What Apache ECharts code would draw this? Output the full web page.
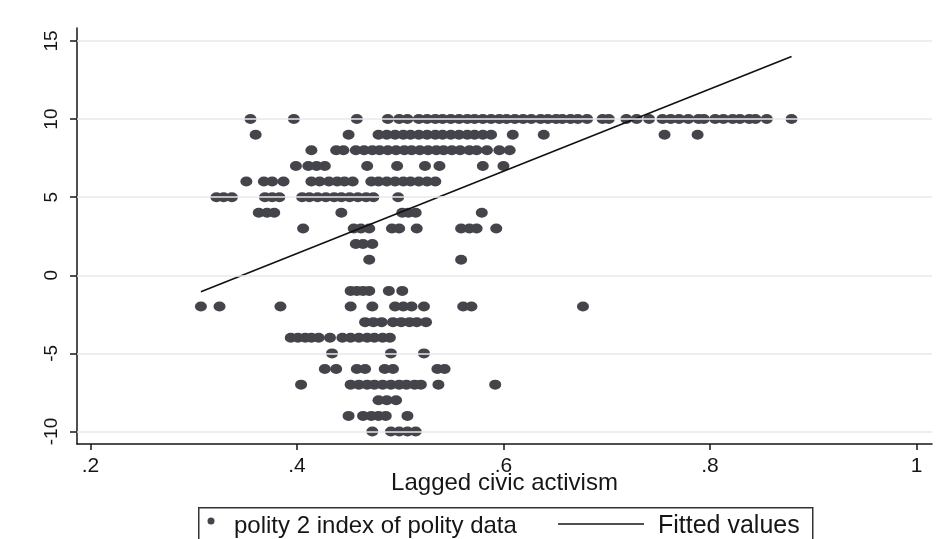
<!DOCTYPE html>
<html>
<head>
<meta charset="utf-8">
<script src="https://cdn.jsdelivr.net/npm/echarts@6/dist/echarts.min.js"></script>
<style>html,body{margin:0;padding:0;background:#fff;}#c{width:949px;height:539px;}</style>
</head>
<body>
<div id="c"></div>
<script>
// polity 2 index levels and the lagged civic activism values observed at each level
const levels = [10, 9, 8, 7, 6, 5, 4, 3, 2, 1, -1, -2, -3, -4, -5, -6, -7, -8, -9, -10];
const p10 = [0.355,0.397,0.458,0.488,0.499,0.507,0.518,0.526,0.534,0.541,0.549,0.557,0.565,0.572,0.580,0.588,0.596,0.603,0.611,0.619,0.627,0.636,0.643,0.651,0.657,0.665,0.672,0.681,0.696,0.702,0.719,0.729,0.741,0.754,0.762,0.770,0.779,0.789,0.794,0.805,0.813,0.822,0.829,0.838,0.844,0.855,0.879];
const p9 = [0.360,0.450,0.479,0.487,0.495,0.503,0.510,0.518,0.526,0.534,0.541,0.549,0.557,0.565,0.572,0.580,0.588,0.609,0.639,0.756,0.788];
const p8 = [0.414,0.438,0.445,0.457,0.465,0.473,0.480,0.488,0.496,0.504,0.511,0.519,0.527,0.535,0.542,0.550,0.558,0.567,0.574,0.584,0.596,0.606];
const p7 = [0.399,0.411,0.419,0.427,0.468,0.497,0.524,0.538,0.580,0.600];
const p6 = [0.351,0.368,0.376,0.387,0.414,0.422,0.431,0.439,0.446,0.454,0.472,0.479,0.487,0.495,0.503,0.510,0.518,0.526,0.534];
const p5 = [0.322,0.329,0.337,0.369,0.376,0.383,0.405,0.412,0.420,0.428,0.436,0.443,0.451,0.459,0.467,0.474,0.498];
const p4 = [0.363,0.371,0.378,0.443,0.502,0.508,0.515,0.579];
const p3 = [0.406,0.455,0.462,0.470,0.492,0.499,0.516,0.559,0.567,0.574,0.593];
const p2 = [0.457,0.464,0.473];
const p1 = [0.470,0.559];
const m1 = [0.452,0.458,0.464,0.470,0.489,0.502];
const m2 = [0.307,0.325,0.384,0.452,0.473,0.495,0.503,0.511,0.523,0.561,0.569,0.677];
const m3 = [0.466,0.474,0.482,0.493,0.501,0.509,0.516,0.525];
const m4 = [0.394,0.401,0.408,0.414,0.421,0.432,0.444,0.452,0.460,0.468,0.475,0.483,0.490];
const m5 = [0.434,0.491,0.523];
const m6 = [0.427,0.438,0.458,0.466,0.485,0.493,0.536,0.543];
const m7 = [0.404,0.452,0.460,0.468,0.475,0.483,0.491,0.499,0.506,0.514,0.520,0.537,0.592];
const m8 = [0.479,0.487,0.496];
const m9 = [0.450,0.464,0.472,0.479,0.486,0.507];
const m10 = [0.473,0.491,0.499,0.507,0.515];
const rows = [p10,p9,p8,p7,p6,p5,p4,p3,p2,p1,m1,m2,m3,m4,m5,m6,m7,m8,m9,m10];

// fitted values (linear fit endpoints)
const fitX = [0.307, 0.879];
const fitY = [-1.05, 14.0];

// ticks
const xTicks = [0.2, 0.4, 0.6, 0.8, 1.0];
const xTickLabels = ['.2', '.4', '.6', '.8', '1'];
const yTicks = [-10, -5, 0, 5, 10, 15];
const yTickLabels = ['-10', '-5', '0', '5', '10', '15'];

const scatterData = [];
rows.forEach((r, i) => r.forEach(v => scatterData.push([v, levels[i]])));
const fitData = fitX.map((x, i) => [x, fitY[i]]);

const FONT = '"Liberation Sans", Arial, sans-serif';
const INK = '#161616';
const chart = echarts.init(document.getElementById('c'), null, {renderer: 'canvas'});
chart.setOption({
  backgroundColor: '#ffffff',
  animation: false,
  grid: {left: 77, right: 17, top: 28, bottom: 95},
  xAxis: {
    type: 'value', min: 0.187, max: 1.015,
    name: 'Lagged civic activism', nameLocation: 'middle', nameGap: 27, nameMoveOverlap: false,
    nameTextStyle: {fontFamily: FONT, fontSize: 24, color: INK},
    axisLine: {show: true, onZero: false, lineStyle: {color: INK, width: 1.5}},
    axisTick: {show: true, length: 6, customValues: xTicks, lineStyle: {color: INK, width: 1.5}},
    axisLabel: {customValues: xTicks, margin: 12, fontFamily: FONT, fontSize: 21, color: INK,
      formatter: v => { const i = xTicks.findIndex(t => Math.abs(t - v) < 1e-6); return i >= 0 ? xTickLabels[i] : ''; }},
    splitLine: {show: false}
  },
  yAxis: {
    type: 'value', min: -10.8, max: 15.83,
    axisLine: {show: true, onZero: false, lineStyle: {color: INK, width: 1.5}},
    axisTick: {show: true, length: 7, customValues: yTicks, lineStyle: {color: INK, width: 1.5}},
    axisLabel: {customValues: yTicks, rotate: 90, margin: 16, fontFamily: FONT, fontSize: 19, color: INK,
      formatter: v => { const i = yTicks.findIndex(t => Math.abs(t - v) < 1e-6); return i >= 0 ? yTickLabels[i] : ''; }},
    splitLine: {show: false}
  },
  series: [
    {
      name: 'polity 2 index of polity data', type: 'scatter', data: scatterData,
      symbol: 'circle', symbolSize: [12, 10],
      itemStyle: {color: '#44444b', opacity: 1},
      markLine: {
        silent: true, symbol: 'none', label: {show: false},
        lineStyle: {color: '#e8e8ec', width: 1.5, type: 'solid'},
        data: yTicks.map(t => ({yAxis: t}))
      },
      z: 3
    },
    {
      name: 'Fitted values', type: 'line', data: fitData, symbol: 'none',
      lineStyle: {color: '#111', width: 1.6}, z: 4
    }
  ],
  graphic: [
    {type: 'rect', left: 198, top: 507, shape: {width: 614, height: 40}, style: {fill: '#fff', stroke: '#333', lineWidth: 1.5}},
    {type: 'circle', shape: {cx: 211, cy: 521, r: 3.5}, style: {fill: '#44444b'}},
    {type: 'text', left: 234, top: 514, style: {text: 'polity 2 index of polity data', font: '24px "Liberation Sans", Arial, sans-serif', fill: INK}},
    {type: 'line', shape: {x1: 558, y1: 524, x2: 644, y2: 524}, style: {stroke: INK, lineWidth: 1.5}},
    {type: 'text', left: 658, top: 514, style: {text: 'Fitted values', font: '25px "Liberation Sans", Arial, sans-serif', fill: INK}}
  ]
});
</script>
</body>
</html>
